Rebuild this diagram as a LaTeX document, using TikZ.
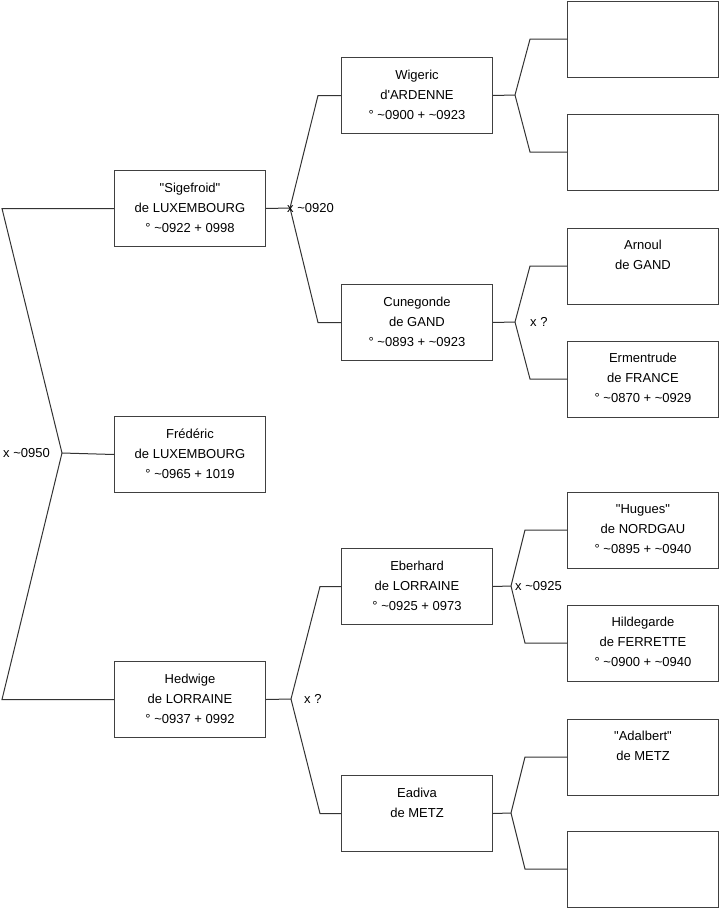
\documentclass[tikz,border=0pt]{standalone}
\usepackage{fontspec}
\setmainfont{Liberation Sans}[Ligatures=TeXOff]
\newcommand\boxtext[1]{\parbox[t][76pt][t]{151pt}{\centering\rule{0pt}{21.5pt}#1\par}}
\newcommand\tl{\textasciitilde}
\begin{document}
\begin{tikzpicture}[x=1pt,y=-1pt,
  box/.style={draw=black!75, line width=1pt, inner sep=0pt, anchor=north west, font=\fontsize{13}{20}\selectfont},
  conn/.style={draw=black!80, line width=1pt},
  lbl/.style={inner sep=0pt, anchor=west, font=\fontsize{13}{15}\selectfont}]
\useasboundingbox (0,0) rectangle (719,908);
% column 1
\node[box] (sig) at (114,170) {\boxtext{"Sigefroid"\\de LUXEMBOURG\\° \tl0922 + 0998}};
\node[box] (fre) at (114,416) {\boxtext{Frédéric\\de LUXEMBOURG\\° \tl0965 + 1019}};
\node[box] (hed) at (114,661) {\boxtext{Hedwige\\de LORRAINE\\° \tl0937 + 0992}};
% column 2
\node[box] (wig) at (341,57) {\boxtext{Wigeric\\d'ARDENNE\\° \tl0900 + \tl0923}};
\node[box] (cun) at (341,284) {\boxtext{Cunegonde\\de GAND\\° \tl0893 + \tl0923}};
\node[box] (ebe) at (341,548) {\boxtext{Eberhard\\de LORRAINE\\° \tl0925 + 0973}};
\node[box] (ead) at (341,775) {\boxtext{Eadiva\\de METZ}};
% column 3
\node[box] (g1) at (567,0.7) {\boxtext{}};
\node[box] (g2) at (567,113.5) {\boxtext{}};
\node[box] (g3) at (567,227.5) {\boxtext{Arnoul\\de GAND}};
\node[box] (g4) at (567,340.5) {\boxtext{Ermentrude\\de FRANCE\\° \tl0870 + \tl0929}};
\node[box] (g5) at (567,491.5) {\boxtext{"Hugues"\\de NORDGAU\\° \tl0895 + \tl0940}};
\node[box] (g6) at (567,604.5) {\boxtext{Hildegarde\\de FERRETTE\\° \tl0900 + \tl0940}};
\node[box] (g7) at (567,718.5) {\boxtext{"Adalbert"\\de METZ}};
\node[box] (g8) at (567,830.5) {\boxtext{}};
% vertices
\coordinate (v0) at (62,453);
\coordinate (vs) at (290,208);
\coordinate (vh) at (291,699);
\coordinate (vw) at (515,95);
\coordinate (vc) at (515,322);
\coordinate (ve) at (511,586);
\coordinate (vd) at (511,813);
% connectors
\draw[conn] (sig.west) -- ++(-112,0) -- (v0) -- (fre.west);
\draw[conn] (hed.west) -- ++(-112,0) -- (v0);
\draw[conn] (sig.east) -- (vs);
\draw[conn] (wig.west) -- ++(-23,0) -- (vs);
\draw[conn] (cun.west) -- ++(-23,0) -- (vs);
\draw[conn] (hed.east) -- (vh);
\draw[conn] (ebe.west) -- ++(-21,0) -- (vh);
\draw[conn] (ead.west) -- ++(-21,0) -- (vh);
\draw[conn] (wig.east) -- (vw);
\draw[conn] (g1.west) -- ++(-37,0) -- (vw);
\draw[conn] (g2.west) -- ++(-37,0) -- (vw);
\draw[conn] (cun.east) -- (vc);
\draw[conn] (g3.west) -- ++(-37,0) -- (vc);
\draw[conn] (g4.west) -- ++(-37,0) -- (vc);
\draw[conn] (ebe.east) -- (ve);
\draw[conn] (g5.west) -- ++(-42,0) -- (ve);
\draw[conn] (g6.west) -- ++(-42,0) -- (ve);
\draw[conn] (ead.east) -- (vd);
\draw[conn] (g7.west) -- ++(-42,0) -- (vd);
\draw[conn] (g8.west) -- ++(-42,0) -- (vd);
% labels
\node[lbl] (l0) at (3,453) {x \tl0950};
\node[lbl] (ls) at (287,208) {x \tl0920};
\node[lbl] (lc) at (530,322) {x ?};
\node[lbl] (lh) at (304,699) {x ?};
\node[lbl] (le) at (515,586) {x \tl0925};
\end{tikzpicture}
\end{document}
